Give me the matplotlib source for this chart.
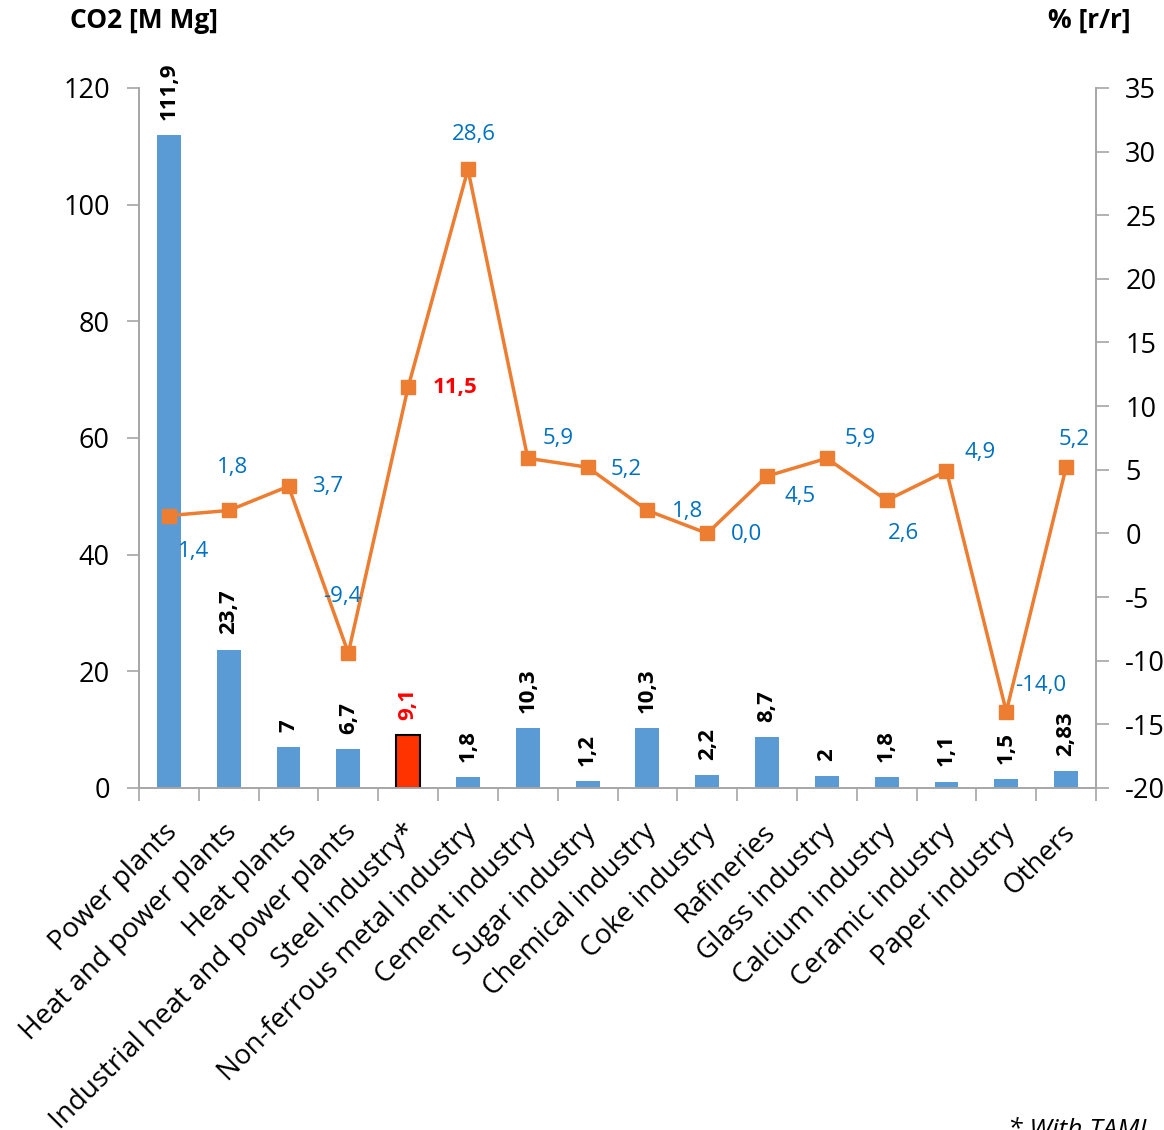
import matplotlib
matplotlib.use("Agg")
import matplotlib.pyplot as plt
import numpy as np

plt.rcParams["font.family"] = ["Open Sans", "DejaVu Sans"]
plt.rcParams["axes.unicode_minus"] = False

CATEGORIES = ["Power plants", "Heat and power plants", "Heat plants",
              "Industrial heat and power plants", "Steel industry*",
              "Non-ferrous metal industry", "Cement industry", "Sugar industry",
              "Chemical industry", "Coke industry", "Rafineries",
              "Glass industry", "Calcium industry", "Ceramic industry",
              "Paper industry", "Others"]
CO2 = [111.9, 23.7, 7, 6.7, 9.1, 1.8, 10.3, 1.2, 10.3, 2.2, 8.7, 2, 1.8, 1.1, 1.5, 2.83]
CO2_LABELS = ["111,9", "23,7", "7", "6,7", "9,1", "1,8", "10,3", "1,2", "10,3",
              "2,2", "8,7", "2", "1,8", "1,1", "1,5", "2,83"]
CHANGE = [1.4, 1.8, 3.7, -9.4, 11.5, 28.6, 5.9, 5.2, 1.8, 0.0, 4.5, 5.9, 2.6, 4.9, -14.0, 5.2]
HIGHLIGHT = 4  # steel industry

# label offsets for the % values (points)
OFFSETS = [(18, -26), (3, 31), (28, 0), (-4, 41), (34, 0), (4, 25), (22, 14),
           (28, -2), (29, -1), (28, -1), (24, -15), (24, 14), (12, -24),
           (24, 13), (25, 19), (6, 20)]

BLUE = "#5B9BD5"
ORANGE = "#ED7D31"
LBLUE = "#0070C0"
AXC = "#A6A6A6"

fig = plt.figure(figsize=(11.64, 11.30), dpi=100)
ax = fig.add_axes([0.1194, 0.3027, 0.8222, 0.6195])
ax2 = ax.twinx()

x = np.arange(len(CATEGORIES))
colors = [BLUE] * len(CO2)
colors[HIGHLIGHT] = "#FF3300"
bars = ax.bar(x, CO2, width=0.4, color=colors, zorder=2)
bars[HIGHLIGHT].set_edgecolor("black")
bars[HIGHLIGHT].set_linewidth(1.5)

for i, (v, lab) in enumerate(zip(CO2, CO2_LABELS)):
    ax.annotate(lab, (x[i], v), xytext=(0, 11), textcoords="offset points",
                rotation=90, ha="center", va="bottom", fontsize=16,
                fontweight="bold",
                color="red" if i == HIGHLIGHT else "black")

ax.set_xlim(-0.5, len(CATEGORIES) - 0.5)
ax.set_ylim(0, 120)
ax.set_yticks(range(0, 121, 20))
ax2.set_ylim(-20, 35)
ax2.set_yticks(range(-20, 36, 5))

ax2.plot(x, CHANGE, color=ORANGE, linewidth=2.5, marker="s", markersize=10,
         zorder=3)
for i, v in enumerate(CHANGE):
    txt = f"{v:.1f}".replace(".", ",")
    if i == HIGHLIGHT:
        ax2.annotate(txt, (x[i], v), xytext=OFFSETS[i], textcoords="offset points",
                     ha="center", va="center", fontsize=16, fontweight="bold",
                     color="red")
    else:
        ax2.annotate(txt, (x[i], v), xytext=OFFSETS[i], textcoords="offset points",
                     ha="center", va="center", fontsize=16, color=LBLUE)

for a in (ax, ax2):
    a.spines["top"].set_visible(False)
    for s in ("left", "right", "bottom"):
        a.spines[s].set_color(AXC)
        a.spines[s].set_linewidth(1.2)
    a.tick_params(axis="y", colors=AXC, labelcolor="black", labelsize=19.5,
                  length=9, width=1.2, pad=12)

# category labels with ticks between categories
ax.set_xticks(np.arange(-0.5, len(CATEGORIES)), minor=False)
ax.set_xticklabels([])
ax.tick_params(axis="x", colors=AXC, length=9, width=1.2)
for i, name in enumerate(CATEGORIES):
    ax.annotate(name, (x[i], 0), xytext=(-4, -22), textcoords="offset points",
                rotation=45, ha="right", va="top", rotation_mode="anchor",
                fontsize=20, color="black", annotation_clip=False)

fig.text(0.060, 0.982, "CO2 [M Mg]", fontsize=19, fontweight="bold",
         ha="left", va="center")
fig.text(0.971, 0.982, "% [r/r]", fontsize=19, fontweight="bold",
         ha="right", va="center")
fig.text(0.866, 0.011, "* With TAMI", fontsize=19, style="italic",
         ha="left", va="top")

fig.savefig("out.png", dpi=100)
